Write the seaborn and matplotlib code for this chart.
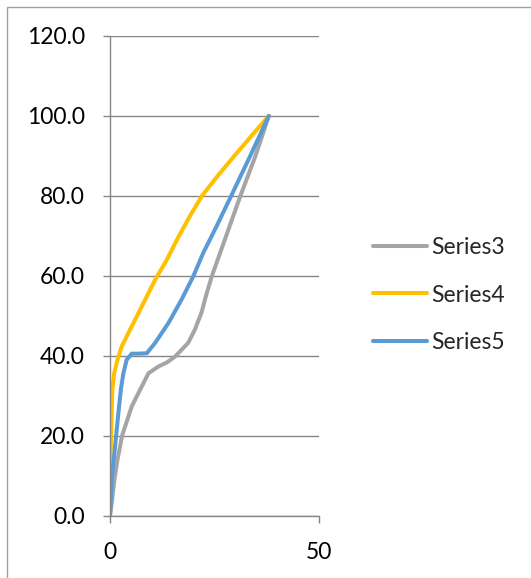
import numpy as np
import pandas as pd
import matplotlib
matplotlib.use("Agg")
import matplotlib.pyplot as plt
import seaborn as sns
from matplotlib.patches import Rectangle

# values (x, y pairs per series)
s3_x = [0, 0.4, 1.0, 1.8, 2.9, 5.2, 7.6, 9.2, 11.6, 13.6, 15.6, 18.7, 20.3, 21.9, 23.1, 24.4, 27.8, 31.2, 34.8, 38]
s3_y = [0, 3, 8.5, 14, 20, 27.3, 32.3, 35.6, 37.3, 38.3, 39.8, 43.2, 46.5, 50.8, 55.5, 60, 70, 80, 90, 100]

s4_x = [0, 0.05, 0.1, 0.4, 0.55, 1.0, 1.8, 2.8, 4.8, 7.6, 10.8, 13.6, 16, 19.1, 22, 26, 30, 34, 38]
s4_y = [0, 7, 13, 25.6, 31.5, 35.6, 39, 42.3, 46.5, 52.3, 59, 64, 69, 74.9, 80, 85.3, 90.3, 95.2, 100]

s5_x = [0, 0.1, 0.4, 1.2, 2.0, 2.6, 3.2, 4, 5.2, 6.8, 8.8, 10.8, 14, 17.1, 19.9, 22.3, 25.5, 29.0, 33.5, 38]
s5_y = [0, 2, 8.9, 17.2, 25.6, 31.5, 35.6, 39, 40.5, 40.5, 40.6, 43.2, 48.2, 54, 59.8, 65.7, 72.4, 80, 89.9, 100]

series_names = ["Series3", "Series4", "Series5"]
colors = ["#A5A5A5", "#FFC000", "#5B9BD5"]
y_ticks = [0, 20, 40, 60, 80, 100, 120]
x_ticks = [0, 50]

frames = []
for name, xs, ys in zip(series_names, [s3_x, s4_x, s5_x], [s3_y, s4_y, s5_y]):
    frames.append(pd.DataFrame({"x": xs, "y": ys, "series": name}))
df = pd.concat(frames, ignore_index=True)

sns.set_style("white")
plt.rcParams["font.family"] = ["Lato", "DejaVu Sans"]

fig = plt.figure(figsize=(5.31, 5.78), dpi=100)
ax = fig.add_axes([110 / 531, 1 - 515.5 / 578, 209 / 531, 479.5 / 578])

sns.lineplot(data=df, x="x", y="y", hue="series", palette=colors, sort=False,
             estimator=None, linewidth=2.9, ax=ax, solid_capstyle="round",
             solid_joinstyle="round")

grid_c = "#868686"
ax.set_xlim(0, 50)
ax.set_ylim(0, 120)
ax.set_yticks(y_ticks)
ax.set_yticklabels([f"{v:.1f}" for v in y_ticks])
ax.set_xticks(x_ticks)
ax.set_xticklabels([str(v) for v in x_ticks])
ax.yaxis.grid(True, color=grid_c, linewidth=1.0)
ax.set_axisbelow(True)
for side in ["top", "right"]:
    ax.spines[side].set_visible(False)
for side in ["left", "bottom"]:
    ax.spines[side].set_color(grid_c)
    ax.spines[side].set_linewidth(1.0)
ax.tick_params(axis="both", direction="out", length=5, width=1.0, color=grid_c,
               labelsize=16.5, labelcolor="black")
ax.tick_params(axis="y", left=True, pad=13)
ax.tick_params(axis="x", bottom=True, pad=14)
ax.set_xlabel("")
ax.set_ylabel("")

handles, labels = ax.get_legend_handles_labels()
ax.legend(handles, labels, loc="center left", bbox_to_anchor=(373 / 531, 1 - 295 / 578),
          bbox_transform=fig.transFigure, frameon=False, fontsize=16.5,
          handlelength=2.36, handletextpad=0.2, labelspacing=1.15, borderpad=0,
          borderaxespad=0)

# chart border (only left and top edges fall inside the picture)
fig.patches.append(Rectangle((7 / 531, -0.1), 1.2, 1 - 7 / 578 + 0.1, transform=fig.transFigure,
                             fill=False, edgecolor="#A0A0A0", linewidth=1.0))

fig.savefig("out.png", dpi=100)
